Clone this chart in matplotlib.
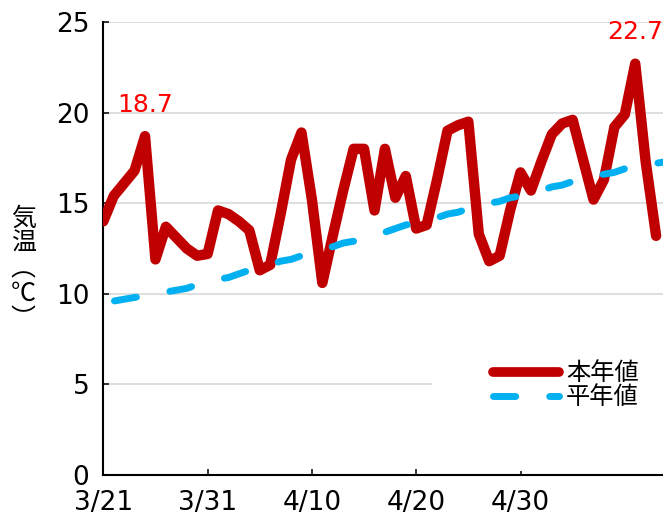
import numpy as np
import matplotlib.pyplot as plt
from matplotlib.lines import Line2D

plt.rcParams["font.family"] = ["DejaVu Sans", "Noto Sans CJK JP"]

# daily mean temperature, from 3/21
start = np.datetime64("2023-03-21")
this_year = [
    14.0, 15.4, 16.1, 16.8, 18.7, 11.9, 13.7, 13.1, 12.5, 12.1,
    12.2, 14.6, 14.4, 14.0, 13.5, 11.3, 11.6, 14.4, 17.4, 18.9,
    15.2, 10.6, 13.2, 15.7, 18.0, 18.0, 14.6, 18.0, 15.3, 16.5,
    13.6, 13.8, 16.3, 19.0, 19.3, 19.5, 13.3, 11.8, 12.1, 14.6,
    16.7, 15.7, 17.3, 18.8, 19.4, 19.6, 17.4, 15.2, 16.3, 19.2,
    19.9, 22.7, 17.3, 13.2,
]
normal = [
    9.4, 9.6, 9.7, 9.8, 9.9, 10.0, 10.1, 10.2, 10.3, 10.5,
    10.6, 10.8, 10.9, 11.1, 11.3, 11.4, 11.6, 11.8, 11.9, 12.1,
    12.3, 12.5, 12.6, 12.8, 12.9, 13.1, 13.3, 13.4, 13.6, 13.8,
    13.9, 14.1, 14.2, 14.4, 14.5, 14.7, 14.8, 15.0, 15.1, 15.3,
    15.4, 15.6, 15.7, 15.9, 16.0, 16.2, 16.3, 16.5, 16.6, 16.7,
    16.9, 17.0, 17.1, 17.2, 17.3, 17.4,
]
tick_dates = ["2023-03-21", "2023-03-31", "2023-04-10", "2023-04-20", "2023-04-30"]
tick_labels = ["3/21", "3/31", "4/10", "4/20", "4/30"]
label_idx = [4, 51]
legend_labels = ["本年値", "平年値"]

red = "#C00000"
blue = "#00B0F0"

days_this = start + np.arange(len(this_year))
days_norm = start + np.arange(len(normal))

fig = plt.figure(figsize=(6.63, 5.17), dpi=100)
ax = fig.add_axes([103.3 / 663, 42 / 517, 625.8 / 663, 453 / 517])

ax.plot(
    days_this,
    this_year,
    color=red,
    linewidth=7.5,
    solid_joinstyle="round",
    solid_capstyle="round",
    zorder=3,
)

ax.plot(
    days_norm,
    normal,
    color=blue,
    linewidth=5.0,
    linestyle=(6.4, (3.2, 4.9)),
    dash_capstyle="round",
    zorder=4,
)

for i in label_idx:
    ax.annotate(
        f"{this_year[i]:.1f}",
        (days_this[i], this_year[i]),
        xytext=(0, 17.5),
        textcoords="offset points",
        ha="center",
        va="baseline",
        color="#FF0000",
        fontsize=18,
        annotation_clip=False,
    )

ax.set_xlim(start, start + np.timedelta64(60, "D"))
ax.set_ylim(0, 25)
ax.set_yticks([0, 5, 10, 15, 20, 25])
ax.set_xticks(np.array(tick_dates, dtype="datetime64[D]"))
ax.set_xticklabels(tick_labels)

ax.yaxis.grid(True, color="#D9D9D9", linewidth=1.2)
ax.set_axisbelow(True)

for side in ["top", "right"]:
    ax.spines[side].set_visible(False)
for side in ["left", "bottom"]:
    ax.spines[side].set_linewidth(1.5)

ax.tick_params(direction="in", length=4.5, width=1.1, labelsize=19)
ax.tick_params(axis="y", pad=10)
ax.tick_params(axis="x", pad=11)

fig.text(
    23.3 / 663,
    1 - 269 / 517,
    "気\n温\n︵\n℃\n︶",
    ha="center",
    va="center",
    fontsize=18,
    linespacing=0.95,
    family="Noto Sans CJK JP",
)

handles = [
    Line2D([], [], color=red, linewidth=7, solid_capstyle="round"),
    Line2D(
        [], [], color=blue, linewidth=5.0,
        linestyle=(0, (3.2, 4.9)), dash_capstyle="round",
    ),
]
ax.legend(
    handles,
    legend_labels,
    loc="upper left",
    bbox_to_anchor=(432 / 663, 1 - 300 / 517),
    bbox_transform=fig.transFigure,
    frameon=True,
    facecolor="white",
    edgecolor="none",
    framealpha=1,
    fancybox=False,
    borderpad=2.52,
    borderaxespad=0,
    handlelength=2.7,
    handletextpad=0.3,
    labelspacing=0.0,
    fontsize=17.5,
)

fig.savefig("out.png", dpi=100)
